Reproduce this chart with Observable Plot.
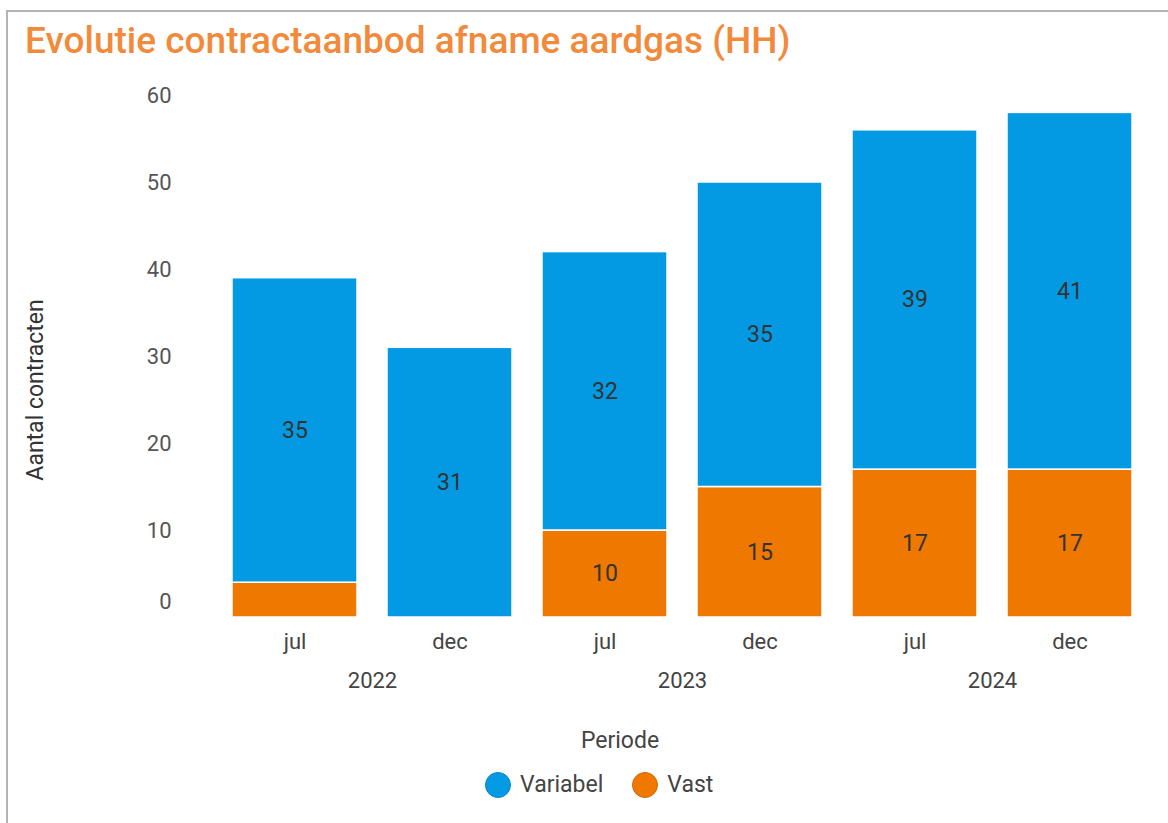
<!DOCTYPE html>
<html>
<head>
<meta charset="utf-8">
<script src="https://cdn.jsdelivr.net/npm/d3@7"></script>
<script src="https://cdn.jsdelivr.net/npm/@observablehq/plot@0.6"></script>
<style>
  html, body { margin: 0; padding: 0; background: #fff; }
  body { width: 1168px; height: 823px; position: relative; overflow: hidden; font-family: Roboto, "Noto Sans", sans-serif; }
  #frame { position: absolute; left: 6px; top: 10px; width: 1180px; height: 830px; border-left: 2px solid #b3b3b3; border-top: 2px solid #b3b3b3; }
  #title { position: absolute; left: 25px; top: 21px; font-size: 37px; font-weight: 500; color: #f28a3b; white-space: nowrap; line-height: 1.1; }
  #chart { position: absolute; left: 0; top: 0; }
  #ylabel { position: absolute; left: 35px; top: 390px; transform: translate(-50%, -50%) rotate(-90deg); font-size: 23px; color: #333; white-space: nowrap; }
  #xlabel { position: absolute; left: 620px; top: 740px; transform: translate(-50%, -50%); font-size: 23px; color: #444; white-space: nowrap; }
  #legend { position: absolute; left: 485px; top: 771px; display: flex; align-items: center; font-size: 23px; color: #444; }
  .item { display: flex; align-items: center; margin-right: 29px; }
  .sw { width: 26px; height: 26px; border-radius: 50%; margin-right: 9px; box-sizing: border-box; }
</style>
</head>
<body>
<div id="frame"></div>
<div id="chart"></div>
<div id="title">Evolutie contractaanbod afname aardgas (HH)</div>
<div id="ylabel">Aantal contracten</div>
<div id="xlabel">Periode</div>
<div id="legend"></div>
<script>
const years = ["2022", "2022", "2023", "2023", "2024", "2024"];
const months = ["jul", "dec", "jul", "dec", "jul", "dec"];
const variabel = [35, 31, 32, 35, 39, 41];
const vast = [4, 0, 10, 15, 17, 17];
const seriesNames = ["Variabel", "Vast"];
const seriesColors = ["#039ae3", "#ee7800"];
const yTicks = [10, 20, 30, 40, 50, 60];

const rows = [];
years.forEach((y, i) => {
  rows.push({year: y, month: months[i], type: "Vast", value: vast[i]});
  rows.push({year: y, month: months[i], type: "Variabel", value: variabel[i]});
});

const chart = Plot.plot({
  width: 1168,
  height: 823,
  marginLeft: 216,
  marginRight: 20,
  marginTop: 95,
  marginBottom: 206,
  style: {fontFamily: "Roboto, sans-serif", fontSize: "22px", color: "#555", background: "transparent"},
  fx: {domain: ["2022", "2023", "2024"], padding: 0, label: null},
  x: {domain: ["jul", "dec"], paddingInner: 0.193, paddingOuter: 0.0965, label: null},
  y: {domain: [0, 60], label: null},
  color: {domain: seriesNames, range: seriesColors},
  marks: [
    Plot.barY(rows, Plot.stackY({
      fx: "year", x: "month", y: "value", fill: "type", z: "type",
      order: ["Vast", "Variabel"],
      stroke: "white", strokeWidth: 1.5
    })),
    Plot.text(rows, Plot.stackY({
      fx: "year", x: "month", y: "value", z: "type",
      order: ["Vast", "Variabel"],
      text: d => d.value >= 5 ? String(d.value) : "",
      fill: "#333", fontSize: 23
    })),
    Plot.axisY(yTicks, {tickSize: 0, tickPadding: 46, fontSize: 22, fill: "#555", label: null}),
    Plot.axisY([0], {tickSize: 0, tickPadding: 46, fontSize: 22, fill: "#555", dy: -16, label: null}),
    Plot.axisX({anchor: "bottom", tickSize: 0, tickPadding: 16, fontSize: 22, fill: "#444", label: null}),
    Plot.axisFx({anchor: "bottom", tickSize: 0, tickPadding: 55, fontSize: 22, fill: "#444", label: null})
  ]
});
document.getElementById("chart").appendChild(chart);

const legend = document.getElementById("legend");
seriesNames.forEach((n, i) => {
  const it = document.createElement("div");
  it.className = "item";
  const sw = document.createElement("div");
  sw.className = "sw";
  sw.style.background = seriesColors[i];
  sw.style.border = "1px solid " + d3.color(seriesColors[i]).darker(0.4);
  const t = document.createElement("span");
  t.textContent = n;
  it.appendChild(sw);
  it.appendChild(t);
  legend.appendChild(it);
});
</script>
</body>
</html>
